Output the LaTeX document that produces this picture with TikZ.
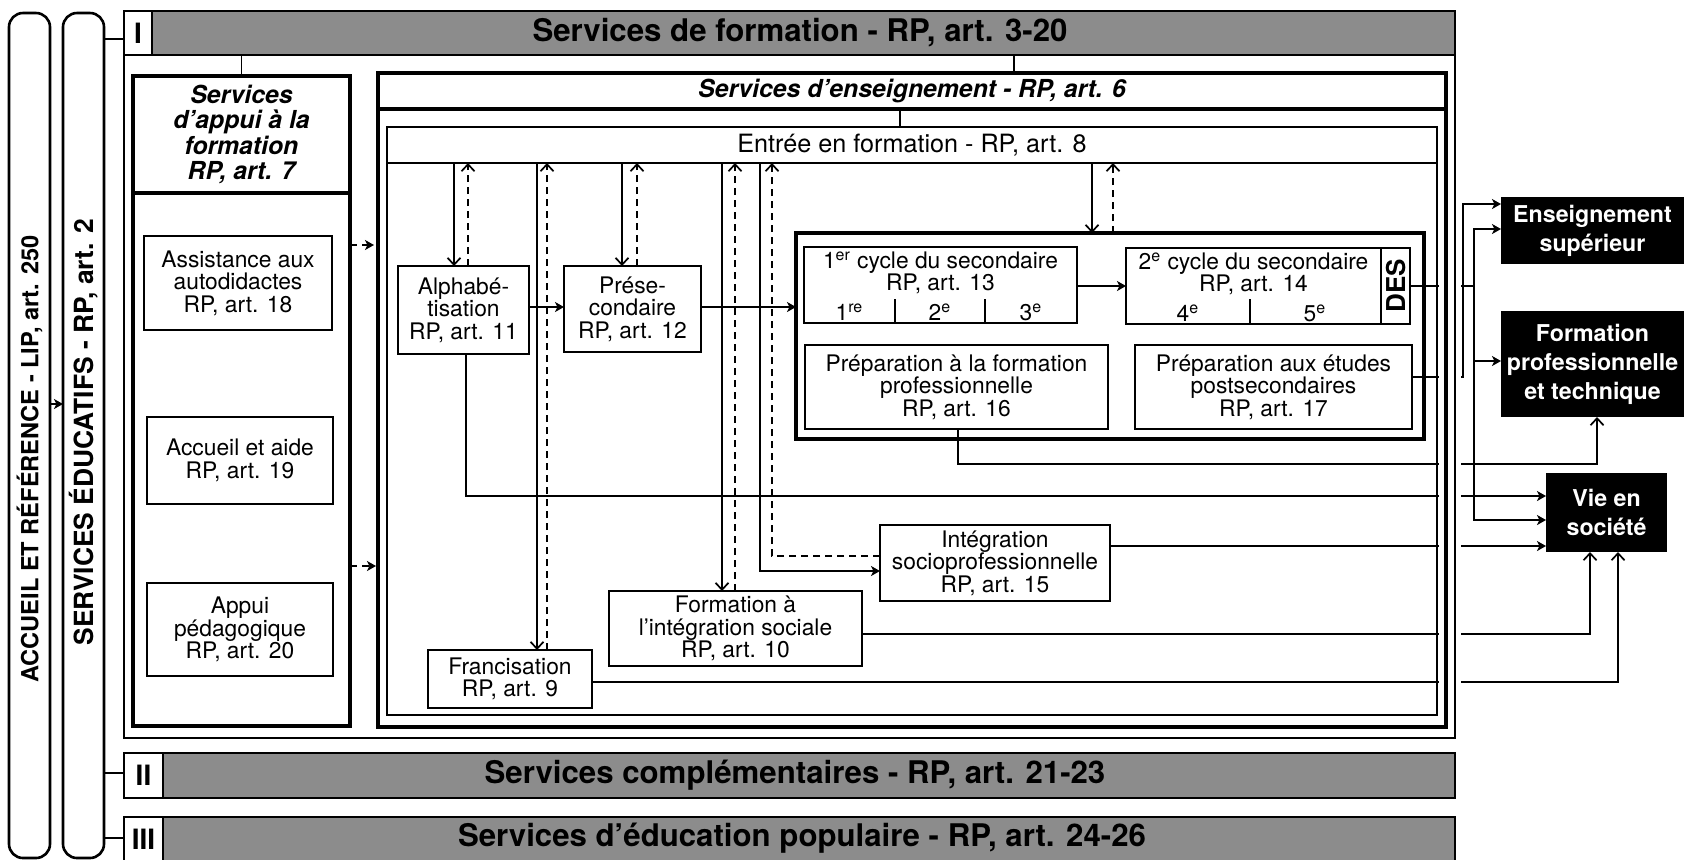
\documentclass[tikz,border=0pt]{standalone}
\usepackage{fontspec}
\setmainfont{TeX Gyre Heros}
\usetikzlibrary{arrows.meta,calc}
\pgfdeclarelayer{bg}
\pgfdeclarelayer{mid}
\pgfsetlayers{bg,mid,main}
\newcommand\fBody{\fontsize{11.4}{11.2}\selectfont}
\newcommand\fHdr{\fontsize{15.6}{16}\selectfont\bfseries}
\newcommand\fNum{\fontsize{14}{14}\selectfont\bfseries}
\newcommand\fTitleI{\fontsize{12.4}{12.8}\selectfont\bfseries\itshape}
\newcommand\fEntree{\fontsize{12.6}{13}\selectfont}
\newcommand\fOut{\fontsize{11.6}{14.5}\selectfont\bfseries}
\newcommand\fPillA{\fontsize{11.8}{12}\selectfont\bfseries}
\newcommand\fPillB{\fontsize{13.2}{13}\selectfont\bfseries}
\newcommand\fDes{\fontsize{13}{13}\selectfont\bfseries}
% \mkbox{name}{x1}{y1}{x2}{y2}{style}{text}
\newcommand\mkbox[7]{\node[#6,minimum width={(#4-#2)*0.5pt},minimum height={(#5-#3)*0.5pt}] (#1) at ({(#2+#4)/2},{(#3+#5)/2}) {#7};}
\begin{document}
\begin{tikzpicture}[x=0.5pt,y=-0.5pt,
 every node/.style={inner sep=0pt,outer sep=0pt},
 box/.style={draw,line width=0.85pt,align=center,font=\fBody},
 brd/.style={draw,line width=#1},
 pill/.style={draw,line width=1.3pt,rounded corners=7pt},
 hdr/.style={draw,line width=1.3pt,fill=black!45},
 numbox/.style={draw,line width=1.3pt,fill=white,font=\fNum},
 outbox/.style={fill=black,text=white,align=center,font=\fOut},
 conn/.style={line width=0.85pt},
 arrV/.style={conn,-{Straight Barb[length=3.5pt,width=6.5pt,line width=0.85pt]}},
 arrH/.style={conn,-{Stealth[length=4.5pt,width=5pt,inset=1.2pt]}},
 dsh/.style={dash pattern=on 3.5pt off 2.5pt}]
\useasboundingbox (0,0) rectangle (1684,859);
% coordinates
\coordinate (yI) at (0,39);
\coordinate (yII) at (0,773);
\coordinate (yIII) at (0,838);
\coordinate (yP) at (0,404);
\coordinate (xH) at (1014,0);
\coordinate (xE) at (900,0);
\coordinate (yD1) at (0,245);
\coordinate (yD2) at (0,566);
\coordinate (xa1) at (454,0);
\coordinate (xa2) at (468,0);
\coordinate (xp1) at (622,0);
\coordinate (xp2) at (637,0);
\coordinate (xf1) at (537,0);
\coordinate (xf2) at (547,0);
\coordinate (xs1) at (722,0);
\coordinate (xs2) at (735,0);
\coordinate (xi1) at (760,0);
\coordinate (xi2) at (772,0);
\coordinate (yi1) at (0,571);
\coordinate (yi2) at (0,556);
\coordinate (xc1) at (1092,0);
\coordinate (xc2) at (1113,0);
\coordinate (y307) at (0,307);
\coordinate (y286) at (0,286);
\coordinate (xal) at (466,0);
\coordinate (y496) at (0,496);
\coordinate (x958) at (958,0);
\coordinate (k16) at (1597,464);
\coordinate (y634) at (0,634);
\coordinate (y682) at (0,682);
\coordinate (xv1) at (1590,0);
\coordinate (xv2) at (1618,0);
\coordinate (y546) at (0,546);
\coordinate (xd) at (1474,0);
\coordinate (y229) at (0,229);
\coordinate (y361) at (0,361);
\coordinate (y520) at (0,520);
\coordinate (y377) at (0,377);
\coordinate (xq) at (1463,0);
\coordinate (y204) at (0,204);
% pills
\mkbox{p1}{9}{13}{50}{858}{pill}{}
\node[rotate=90,font=\fPillA] (p1t) at (29.5,459) {ACCUEIL ET RÉFÉRENCE - LIP, art. 250};
\mkbox{p2}{63}{13}{104}{858}{pill}{}
\node[rotate=90,font=\fPillB] (p2t) at (83.5,432) {SERVICES ÉDUCATIFS - RP, art. 2};
% headers
\mkbox{h1}{124}{11}{1455}{55}{hdr}{}
\mkbox{h1n}{124}{11}{152}{55}{numbox}{I}
\node[font=\fHdr] (h1t) at (800,33) {Services de formation - RP, art. 3-20};
\mkbox{h2}{124}{753}{1455}{798}{hdr}{}
\mkbox{h2n}{124}{753}{163}{798}{numbox}{II}
\node[font=\fHdr] (h2t) at (795,775.5) {Services complémentaires - RP, art. 21-23};
\mkbox{h3}{124}{817}{1455}{862}{hdr}{}
\mkbox{h3n}{124}{817}{163}{862}{numbox}{III}
\node[font=\fHdr] (h3t) at (802,838) {Services d'éducation populaire - RP, art. 24-26};
% frames
\mkbox{fI}{124}{55}{1455}{738}{brd=1.3pt}{}
\mkbox{appui}{133}{76}{350}{726}{brd=1.8pt}{}
\mkbox{appuiT}{133}{76}{350}{193}{brd=1.8pt,align=center,font=\fTitleI}{Services\\d'appui à la\\formation\\RP, art. 7}
\mkbox{n18}{144}{236}{332}{330}{box}{Assistance aux\\autodidactes\\RP, art. 18}
\mkbox{n19}{147}{417}{333}{504}{box}{Accueil et aide\\RP, art. 19}
\mkbox{n20}{147}{583}{333}{676}{box}{Appui\\pédagogique\\RP, art. 20}
\mkbox{ens}{378}{73}{1446}{727}{brd=1.6pt}{}
\mkbox{ensT}{378}{73}{1446}{109}{brd=1.6pt,font=\fTitleI}{Services d'enseignement - RP, art. 6}
\mkbox{ent}{387}{127}{1437}{715}{brd=1.1pt}{}
\mkbox{entT}{387}{127}{1437}{163}{brd=1.1pt,font=\fEntree}{Entrée en formation - RP, art. 8}
% programme boxes
\mkbox{alpha}{398}{266}{529}{354}{box}{Alphabé-\\tisation\\RP, art. 11}
\mkbox{pres}{564}{266}{701}{352}{box}{Prése-\\condaire\\RP, art. 12}
\mkbox{fran}{428}{650}{592}{708}{box}{Francisation\\RP, art. 9}
\mkbox{fis}{609}{591}{862}{666}{box}{Formation à\\l'intégration sociale\\RP, art. 10}
\mkbox{isp}{880}{525}{1110}{601}{box}{Intégration\\socioprofessionnelle\\RP, art. 15}
\mkbox{sec}{796}{233}{1424}{439}{brd=1.6pt}{}
\mkbox{c1}{804}{247}{1077}{323}{box}{}
\node[font=\fBody,align=center] (c1t) at (940.5,273) {1\textsuperscript{er} cycle du secondaire\\RP, art. 13};
\node[font=\fBody] (c1a) at (849.5,312) {1\textsuperscript{re}};
\node[font=\fBody] (c1b) at (940,312) {2\textsuperscript{e}};
\node[font=\fBody] (c1c) at (1031,312) {3\textsuperscript{e}};
\coordinate (d1) at (895,299);
\coordinate (d2) at (985,299);
\draw[conn] (d1) -- (d1 |- c1.south);
\draw[conn] (d2) -- (d2 |- c1.south);
\mkbox{c2}{1126}{248}{1381}{324}{box}{}
\mkbox{des}{1381}{248}{1410}{324}{box}{}
\node[rotate=90,font=\fDes] (dest) at (des.center) {DES};
\node[font=\fBody,align=center] (c2t) at (1253.5,274) {2\textsuperscript{e} cycle du secondaire\\RP, art. 14};
\node[font=\fBody] (c2a) at (1188,313) {4\textsuperscript{e}};
\node[font=\fBody] (c2b) at (1315,313) {5\textsuperscript{e}};
\coordinate (d3) at (1250,299);
\draw[conn] (d3) -- (d3 |- c2.south);
\mkbox{p16}{805}{345}{1108}{429}{box}{Préparation à la formation\\professionnelle\\RP, art. 16}
\mkbox{p17}{1135}{345}{1412}{429}{box}{Préparation aux études\\postsecondaires\\RP, art. 17}
% outcomes
\mkbox{es}{1501}{197}{1684}{264}{outbox}{Enseignement\\supérieur}
\mkbox{fp}{1501}{311}{1684}{417}{outbox}{Formation\\professionnelle\\et technique}
\mkbox{vie}{1546}{473}{1667}{552}{outbox}{Vie en\\société}
% connectors
\begin{pgfonlayer}{bg}
\fill[white] (0,0) rectangle (1684,859);
\draw[arrH] (p1.east |- yP) -- (p2.west |- yP);
\draw[conn] (p2.east |- yI) -- (h1n.west |- yI);
\draw[conn] (p2.east |- yII) -- (h2n.west |- yII);
\draw[conn] (p2.east |- yIII) -- (h3n.west |- yIII);
\draw[conn] (h1.south -| appui.north) -- (appui.north);
\draw[conn] (h1.south -| xH) -- (ens.north -| xH);
\draw[conn] (ensT.south -| xE) -- (entT.north -| xE);
\draw[arrH,dsh,shorten >=2pt] (appui.east |- yD1) -- (ens.west |- yD1);
\draw[arrH,dsh,shorten >=1pt] (appui.east |- yD2) -- (ens.west |- yD2);
\draw[arrV] (entT.south -| xa1) -- (alpha.north -| xa1);
\draw[arrV,dsh] (alpha.north -| xa2) -- (entT.south -| xa2);
\draw[arrV] (entT.south -| xp1) -- (pres.north -| xp1);
\draw[arrV,dsh] (pres.north -| xp2) -- (entT.south -| xp2);
\draw[arrV] (entT.south -| xf1) -- (fran.north -| xf1);
\draw[arrV,dsh] (fran.north -| xf2) -- (entT.south -| xf2);
\draw[arrV] (entT.south -| xs1) -- (fis.north -| xs1);
\draw[arrV,dsh] (fis.north -| xs2) -- (entT.south -| xs2);
\draw[arrH] (entT.south -| xi1) |- (isp.west |- yi1);
\draw[arrV,dsh] (isp.west |- yi2) -| (entT.south -| xi2);
\draw[arrV] (entT.south -| xc1) -- (sec.north -| xc1);
\draw[arrV,dsh] (sec.north -| xc2) -- (entT.south -| xc2);
\draw[arrH] (alpha.east |- y307) -- (pres.west |- y307);
\draw[arrH] (pres.east |- y307) -- (sec.west |- y307);
\draw[arrH] (c1.east |- y286) -- (c2.west |- y286);
\draw[arrH] (alpha.south -| xal) |- (vie.west |- y496);
\draw[arrV] (p16.south -| x958) |- (k16) -- (fp.south -| k16);
\draw[arrV] (fis.east |- y634) -| (vie.south -| xv1);
\draw[arrV] (fran.east |- y682) -| (vie.south -| xv2);
\draw[arrH] (isp.east |- y546) -- (vie.west |- y546);
\draw[conn] (des.east) -- (des.east -| xd);
\draw[arrH] (des.east -| xd) |- (es.west |- y229);
\draw[arrH] (des.east -| xd) |- (fp.west |- y361);
\draw[arrH] (des.east -| xd) |- (vie.west |- y520);
\draw[arrH] (p17.east |- y377) -| (xq |- y204) -- (es.west |- y204);
\end{pgfonlayer}
\begin{pgfonlayer}{mid}
\fill[white] (1439,180) rectangle (1461,706);
\end{pgfonlayer}
\end{tikzpicture}
\end{document}
